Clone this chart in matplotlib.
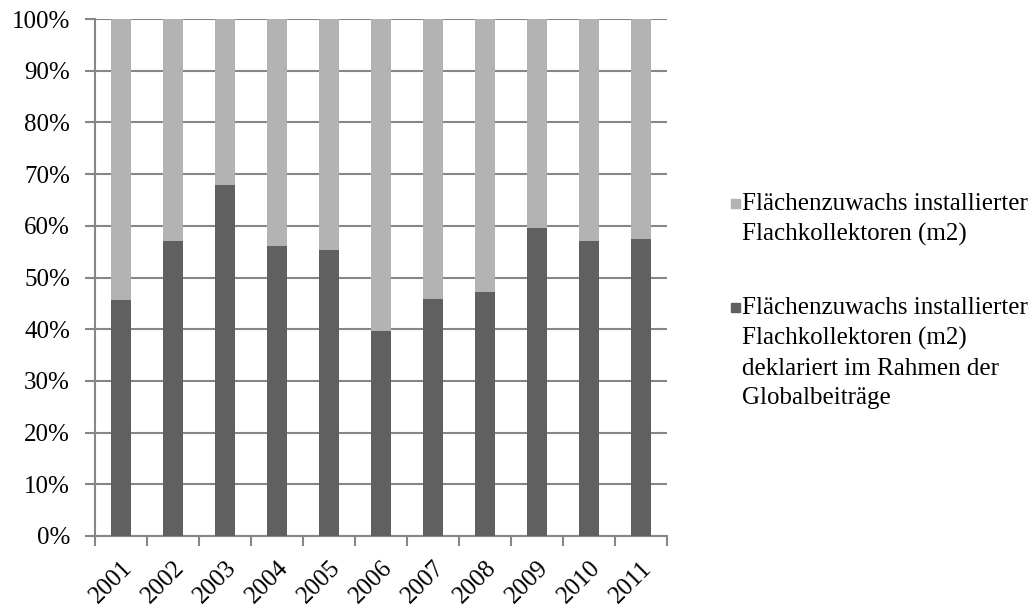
import matplotlib
matplotlib.use("Agg")
import matplotlib.pyplot as plt
from matplotlib.patches import Rectangle
from matplotlib.ticker import PercentFormatter, MultipleLocator
import numpy as np

years = ["2001", "2002", "2003", "2004", "2005", "2006",
         "2007", "2008", "2009", "2010", "2011"]
# share declared within the Globalbeiträge (%)
declared_pct = [45.6, 57.0, 67.8, 56.1, 55.4, 39.7, 45.8, 47.2, 59.5, 57.1, 57.5]
# remaining share of installed flat-plate collector area (%)
other_pct = [100 - v for v in declared_pct]

label_total = "Flächenzuwachs installierter\nFlachkollektoren (m2)"
label_declared = ("Flächenzuwachs installierter\nFlachkollektoren (m2)\n"
                  "deklariert im Rahmen der\nGlobalbeiträge")
color_declared = "#606060"
color_other = "#B3B3B3"
grid_color = "#868686"

plt.rcParams["font.family"] = ["Liberation Serif", "DejaVu Serif"]

W, H = 1036, 608
fig = plt.figure(figsize=(W / 100, H / 100), dpi=100)
ax = fig.add_axes([95 / W, 1 - 536 / H, 572 / W, 517 / H])

x = np.arange(len(years))
w = 0.4
ax.bar(x, declared_pct, width=w, color=color_declared, zorder=3)
ax.bar(x, other_pct, width=w, bottom=declared_pct, color=color_other, zorder=3)

ax.set_xlim(-0.5, len(years) - 0.5)
ax.set_ylim(0, 100)
ax.yaxis.set_major_locator(MultipleLocator(10))
ax.yaxis.set_major_formatter(PercentFormatter(decimals=0))
ax.grid(axis="y", color=grid_color, linewidth=1.5, zorder=0)

for s in ["top", "right"]:
    ax.spines[s].set_visible(False)
for s in ["left", "bottom"]:
    ax.spines[s].set_color(grid_color)
    ax.spines[s].set_linewidth(1.5)

ax.set_xticks(x)
ax.set_xticklabels(years, rotation=45, ha="right", va="top",
                   rotation_mode="anchor", fontsize=18)
ax.tick_params(axis="x", length=0, pad=15)
ax.set_xticks(np.arange(-0.5, len(years)), minor=True)
ax.tick_params(axis="x", which="minor", length=7, width=1.5, color=grid_color)
ax.tick_params(axis="y", length=7, width=1.5, color=grid_color, labelsize=18, pad=11)

# legend drawn in figure coordinates
entries = [(color_other, label_total, 203), (color_declared, label_declared, 307)]
for color, label, ycenter in entries:
    fig.patches.append(Rectangle((731 / W, 1 - (ycenter + 5) / H), 9 / W, 9 / H,
                                 transform=fig.transFigure, color=color))
    fig.text(742 / W, 1 - (ycenter - 10) / H, label, fontsize=18, va="top",
             ha="left", linespacing=1.45)

fig.savefig("out.png", dpi=100)
